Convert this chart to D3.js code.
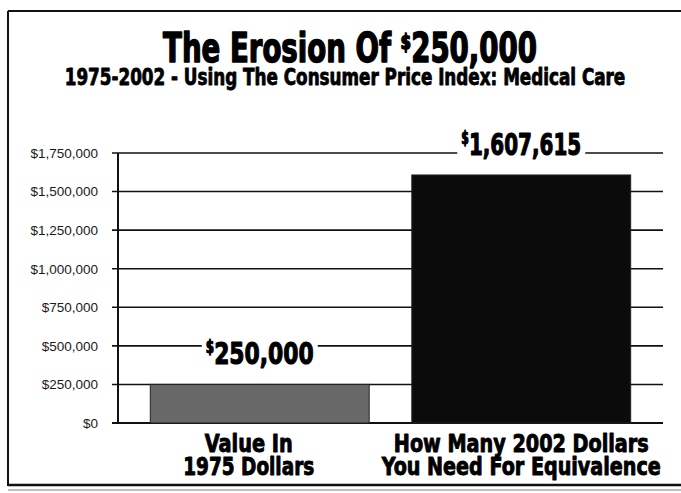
<!DOCTYPE html>
<html>
<head>
<meta charset="utf-8">
<script src="https://cdn.jsdelivr.net/npm/d3@7"></script>
<style>
  body { margin: 0; background: #fff; }
  .heavy { font-family: "DejaVu Sans Condensed", "DejaVu Sans", sans-serif; font-weight: bold; fill: #000; stroke: #000; stroke-linejoin: round; }
  .tick text { font-family: "Liberation Sans", Arial, sans-serif; font-size: 13.5px; fill: #1a1a1a; }
</style>
</head>
<body>
<div id="chart"></div>
<script>
// data
const categories = ['1975', '2002'];
const categoryLines = [['Value In', '1975 Dollars'], ['How Many 2002 Dollars', 'You Need For Equivalence']];
const values = [250000, 1607615];
const yTicks = [0, 250000, 500000, 750000, 1000000, 1250000, 1500000, 1750000];
const barColors = ['#686868', '#0b0b0b'];

const w = 681;
const h = 493;

const svg = d3.select('#chart').append('svg')
    .attr('width', w)
    .attr('height', h);

// heavy condensed text: draw at origin, then squeeze it to the wanted width
const heavyText = (cx, by, size, width) => {
    const t = svg.append('text').attr('class', 'heavy')
        .attr('text-anchor', 'middle')
        .style('font-size', size + 'px')
        .style('stroke-width', size / 28);
    t.fit = () => {
        const natural = t.node().getBBox().width;
        t.attr('transform', `translate(${cx},${by}) scale(${width / natural},1)`);
        return t;
    };
    return t;
};

// frame
svg.append('line').attr('x1', 8).attr('x2', 681).attr('y1', 11).attr('y2', 11)
    .attr('stroke', '#111').attr('stroke-width', 2);
svg.append('line').attr('x1', 8).attr('x2', 8).attr('y1', 11).attr('y2', 486)
    .attr('stroke', '#111').attr('stroke-width', 2);
svg.append('line').attr('x1', 8).attr('x2', 681).attr('y1', 485).attr('y2', 485)
    .attr('stroke', '#111').attr('stroke-width', 2.5);
svg.append('line').attr('x1', 8).attr('x2', 681).attr('y1', 490).attr('y2', 490)
    .attr('stroke', '#aaa').attr('stroke-width', 1.5);

// titles
const title = heavyText(350, 62, 40, 374);
title.append('tspan').text('The Erosion Of ');
title.append('tspan').text('$').style('font-size', '22px').attr('dy', -13);
title.append('tspan').text('250,000').attr('dy', 13);
title.fit();

heavyText(345, 85, 23, 561)
    .text('1975-2002 - Using The Consumer Price Index: Medical Care')
    .fit();

// scales
const y = d3.scaleLinear()
    .domain([0, 1750000])
    .range([423, 153]);

const x = d3.scaleBand()
    .domain(categories)
    .range([129, 652])
    .paddingInner(0.163)
    .paddingOuter(0.0815);

// grid lines
svg.append('g').selectAll('line')
    .data(yTicks)
    .enter()
    .append('line')
    .attr('x1', 112)
    .attr('x2', 663)
    .attr('y1', d => y(d))
    .attr('y2', d => y(d))
    .attr('stroke', '#111')
    .attr('stroke-width', d => d === 0 ? 2 : 1.6);

// y axis
const yAxis = d3.axisLeft(y)
    .tickValues(yTicks)
    .tickSize(0)
    .tickPadding(20)
    .tickFormat(d => '$' + d3.format(',')(d));

const ga = svg.append('g')
    .attr('transform', 'translate(118,0)')
    .call(yAxis);
ga.select('.domain').remove();

svg.append('line')
    .attr('x1', 118).attr('x2', 118)
    .attr('y1', y(1750000)).attr('y2', y(0))
    .attr('stroke', '#111').attr('stroke-width', 2);

// bars
svg.selectAll('rect.bar')
    .data(values)
    .enter()
    .append('rect')
    .attr('class', 'bar')
    .attr('x', (d, i) => x(categories[i]))
    .attr('y', d => y(d))
    .attr('width', x.bandwidth())
    .attr('height', d => y(0) - y(d))
    .attr('fill', (d, i) => barColors[i])
    .attr('stroke', '#222')
    .attr('stroke-width', 1);

// value labels with white box over the gridlines
const labelWidths = [108, 120];
values.forEach((v, i) => {
    const cx = x(categories[i]) + x.bandwidth() / 2;
    const by = y(v) - 20;
    svg.append('rect')
        .attr('x', cx - labelWidths[i] / 2 - 4)
        .attr('y', by - 27)
        .attr('width', labelWidths[i] + 8)
        .attr('height', 31)
        .attr('fill', '#fff');
    const t = heavyText(cx, by, 31, labelWidths[i]);
    t.append('tspan').text('$').style('font-size', '17px').attr('dy', -11);
    t.append('tspan').text(d3.format(',')(v)).attr('dy', 11);
    t.fit();
});

// category labels
const catWidths = [[88, 131], [255, 280]];
const catShift = [-11, 0];
categoryLines.forEach((lines, i) => {
    const cx = x(categories[i]) + x.bandwidth() / 2 + catShift[i];
    lines.forEach((s, j) => {
        heavyText(cx, y(0) + 29 + j * 23, 25, catWidths[i][j])
            .text(s)
            .fit();
    });
});
</script>
</body>
</html>
